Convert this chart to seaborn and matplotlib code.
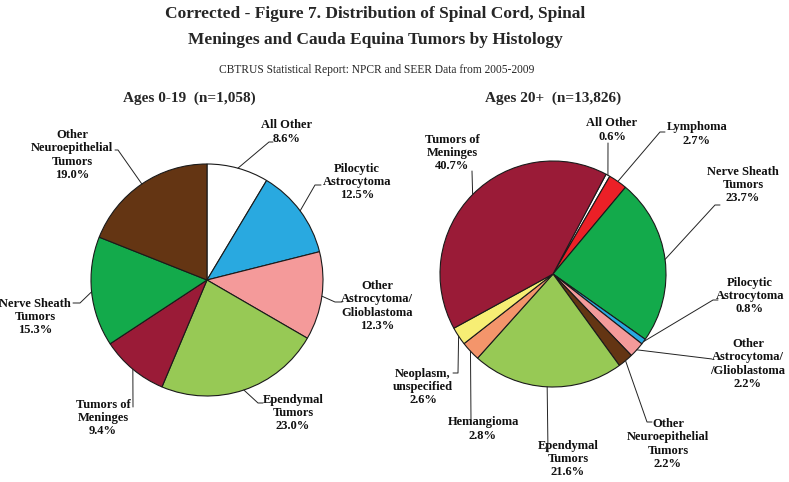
import matplotlib
matplotlib.use("Agg")
import matplotlib.pyplot as plt
import numpy as np
import seaborn as sns

sns.set_theme(style='white')
plt.rcParams['font.family'] = ['Liberation Serif', 'DejaVu Serif']

# =========================
# DATA
# =========================
young_names = ["All Other", "Pilocytic\nAstrocytoma", "Other\nAstrocytoma/\nGlioblastoma",
               "Ependymal\nTumors", "Tumors of\nMeninges", "Nerve Sheath\nTumors",
               "Other\nNeuroepithelial\nTumors"]
young_pct = [8.6, 12.5, 12.3, 23.0, 9.4, 15.3, 19.0]
young_colors = ["#FFFFFF", "#29A9E0", "#F49A9A", "#97C955", "#9A1B37", "#13AA4B", "#643513"]

adult_names = ["All Other", "Lymphoma", "Nerve Sheath\nTumors", "Pilocytic\nAstrocytoma",
               "Other\nAstrocytoma/\n/Glioblastoma", "Other\nNeuroepithelial\nTumors",
               "Ependymal\nTumors", "Hemangioma", "Neoplasm,\nunspecified", "Tumors of\nMeninges"]
adult_pct = [0.6, 2.7, 23.7, 0.8, 2.2, 2.2, 21.6, 2.8, 2.6, 40.7]
adult_colors = ["#FFFFFF", "#EC2027", "#13AA4B", "#29A9E0", "#F49A9A", "#643513",
                "#97C955", "#F4956B", "#F7EE74", "#9A1B37"]

W, H = 789, 482


def Y(y):
    # pixel row (from top) -> data y
    return H - y


# layout: label centre and leader elbows, in pixels from top-left
young_label_pos = [(287, 132), (357, 182), (377, 306), (293, 413), (103, 418), (35, 317), (72, 155)]
young_leaders = [[(269, 142), (273, 142)], [(315, 185), (321, 185)], [(335, 302), (342, 302)],
                 [(258, 403), (263, 403)], [(133, 407)], [(80, 303), (73, 303)],
                 [(118, 150), (115, 150)]]

adult_label_pos = [(612, 130), (697, 134), (743, 185), (750, 296), (748, 364), (668, 444),
                   (568, 459), (483, 429), (423, 387), (452, 153)]
adult_leaders = [[(608, 143)], [(660, 132), (665, 132)], [(715, 205), (720, 205)],
                 [(713, 300), (718, 300)], [(712, 359)], [(647, 422), (652, 422)],
                 [(548, 452)], [(471, 421)], [(458, 373), (453, 373)], [(472, 171)]]


def draw_pie(ax, values, colors, names, center, radius, startangle, label_pos, leaders):
    wedges, _ = ax.pie(values, colors=colors, startangle=startangle, counterclock=False,
                       center=(center[0], Y(center[1])), radius=radius, frame=True,
                       wedgeprops=dict(edgecolor='#1a1a1a', linewidth=0.8))
    for w, name, v, pos, path in zip(wedges, names, values, label_pos, leaders):
        mid = np.deg2rad((w.theta1 + w.theta2) / 2)
        ex = center[0] + radius * np.cos(mid)
        ey = Y(center[1]) + radius * np.sin(mid)
        xs = [ex] + [p[0] for p in path]
        ys = [ey] + [Y(p[1]) for p in path]
        ax.plot(xs, ys, color='#222222', lw=0.7)
        ax.text(pos[0], Y(pos[1]), f"{name}\n{v:.1f}%", ha='center', va='center',
                fontsize=9, fontweight='bold', linespacing=1.15, color='#111111')


fig = plt.figure(figsize=(W / 100, H / 100), dpi=100)
ax = fig.add_axes([0, 0, 1, 1])

draw_pie(ax, young_pct, young_colors, young_names, (207, 280), 116, 90,
         young_label_pos, young_leaders)
draw_pie(ax, adult_pct, adult_colors, adult_names, (553, 274), 113, 62,
         adult_label_pos, adult_leaders)

ax.set_xlim(0, W)
ax.set_ylim(0, H)
ax.axis('off')

fig.text(375 / W, Y(14) / H, "Corrected - Figure 7. Distribution of Spinal Cord, Spinal",
         ha='center', va='center', fontsize=12.5, fontweight='bold')
fig.text(375 / W, Y(40) / H, "Meninges and Cauda Equina Tumors by Histology",
         ha='center', va='center', fontsize=12.5, fontweight='bold')
fig.text(377 / W, Y(70) / H, "CBTRUS Statistical Report: NPCR and SEER Data from 2005-2009",
         ha='center', va='center', fontsize=8.3)
fig.text(189 / W, Y(98) / H, "Ages 0-19  (n=1,058)", ha='center', va='center',
         fontsize=11, fontweight='bold')
fig.text(553 / W, Y(98) / H, "Ages 20+  (n=13,826)", ha='center', va='center',
         fontsize=11, fontweight='bold')

fig.savefig("out.png", dpi=100)
